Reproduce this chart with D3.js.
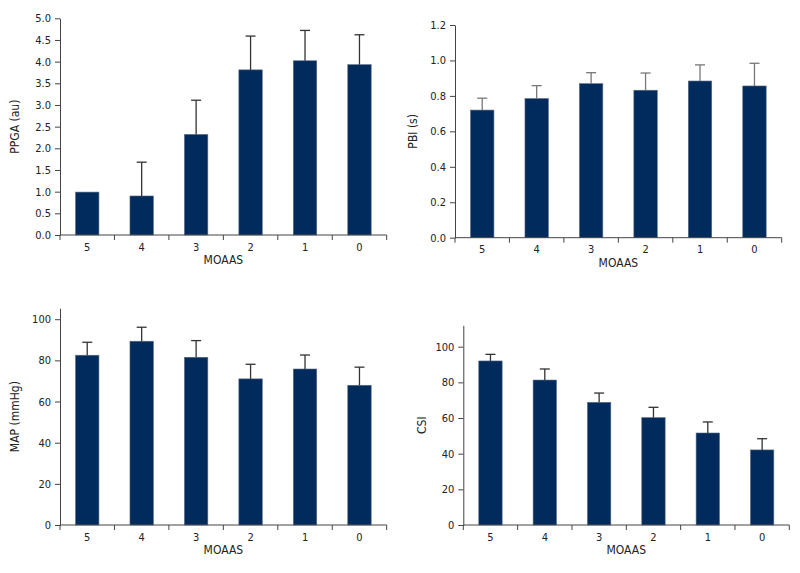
<!DOCTYPE html>
<html>
<head>
<meta charset="utf-8">
<script src="https://cdn.jsdelivr.net/npm/d3@7"></script>
<style>
  html, body { margin: 0; padding: 0; background: #fff; }
  svg { display: block; }
  text { font-family: "Liberation Sans Narrow", "DejaVu Sans Condensed", "Roboto Condensed", sans-serif; fill: #222; }
</style>
</head>
<body>
<svg id="chart" width="800" height="573"></svg>
<script>
// ---- Data ----
const categories = ["5", "4", "3", "2", "1", "0"];
const xTitle = "MOAAS";

const ppgaMean = [0.99, 0.90, 2.32, 3.81, 4.02, 3.93];
const ppgaSD   = [0.00, 0.78, 0.79, 0.78, 0.70, 0.69];
const ppgaTicks = [0, 0.5, 1.0, 1.5, 2.0, 2.5, 3.0, 3.5, 4.0, 4.5, 5.0];

const pbiMean = [0.72, 0.785, 0.869, 0.832, 0.884, 0.856];
const pbiSD   = [0.067, 0.073, 0.062, 0.097, 0.091, 0.128];
const pbiTicks = [0, 0.2, 0.4, 0.6, 0.8, 1.0, 1.2];

const mapMean = [82.5, 89.3, 81.5, 71.0, 75.8, 67.9];
const mapSD   = [6.3, 6.8, 8.1, 7.1, 6.8, 8.8];
const mapTicks = [0, 20, 40, 60, 80, 100];

const csiMean = [92.0, 81.3, 68.8, 60.2, 51.6, 42.1];
const csiSD   = [3.7, 6.2, 5.2, 5.8, 6.2, 6.3];
const csiTicks = [0, 20, 40, 60, 80, 100];

// ---- Panels ----
const panels = [
  { mean: ppgaMean, sd: ppgaSD, ticks: ppgaTicks, fmt: d3.format(".1f"), yTitle: "PPGA (au)",
    xL: 60, xR: 386.7, y0: 235, dmax: 5.0, yTop: 18.3, errColor: "#333", yTitleX: 15, xTitleY: 260 },
  { mean: pbiMean, sd: pbiSD, ticks: pbiTicks, fmt: d3.format(".1f"), yTitle: "PBI (s)",
    xL: 455, xR: 781.7, y0: 237.7, dmax: 1.2, yTop: 25, errColor: "#777", yTitleX: 413, xTitleY: 263 },
  { mean: mapMean, sd: mapSD, ticks: mapTicks, fmt: d3.format("d"), yTitle: "MAP (mmHg)",
    xL: 60, xR: 386.7, y0: 525, dmax: 105.3, yTop: 308.3, errColor: "#333", yTitleX: 15, xTitleY: 550 },
  { mean: csiMean, sd: csiSD, ticks: csiTicks, fmt: d3.format("d"), yTitle: "CSI",
    xL: 463.3, xR: 789.3, y0: 525, dmax: 112, yTop: 325.3, errColor: "#333", yTitleX: 422, xTitleY: 550 }
];

const svg = d3.select("#chart");
const barColor = "#002b5c";
const axisColor = "#444";

panels.forEach(p => {
  const g = svg.append("g");
  const x = d3.scaleBand().domain(categories).range([p.xL, p.xR])
    .paddingInner(0.57).paddingOuter(0.285);
  const y = d3.scaleLinear().domain([0, p.dmax]).range([p.y0, p.yTop]);

  // bars
  g.selectAll("rect.bar").data(p.mean).enter().append("rect")
    .attr("class", "bar")
    .attr("x", (d, i) => x(categories[i]))
    .attr("width", x.bandwidth())
    .attr("y", d => y(d))
    .attr("height", d => y(0) - y(d))
    .attr("fill", barColor)
    .attr("stroke", "#5a6b80")
    .attr("stroke-width", 0.6);

  // error bars
  const eg = g.selectAll("g.err").data(p.mean.map((m, i) => ({ m, s: p.sd[i], c: categories[i] })))
    .enter().append("g").attr("class", "err")
    .filter(d => d.s > 0);
  eg.append("line")
    .attr("x1", d => x(d.c) + x.bandwidth() / 2)
    .attr("x2", d => x(d.c) + x.bandwidth() / 2)
    .attr("y1", d => y(d.m))
    .attr("y2", d => y(d.m + d.s))
    .attr("stroke", p.errColor).attr("stroke-width", 1.3);
  eg.append("line")
    .attr("x1", d => x(d.c) + x.bandwidth() / 2 - 5)
    .attr("x2", d => x(d.c) + x.bandwidth() / 2 + 5)
    .attr("y1", d => y(d.m + d.s))
    .attr("y2", d => y(d.m + d.s))
    .attr("stroke", p.errColor).attr("stroke-width", 1.3);

  // y axis
  const ya = g.append("g").attr("transform", `translate(${p.xL},0)`)
    .call(d3.axisLeft(y).tickValues(p.ticks).tickFormat(p.fmt).tickSize(5).tickPadding(4).tickSizeOuter(0));
  ya.select(".domain").attr("stroke", axisColor);
  ya.selectAll(".tick line").attr("stroke", axisColor);
  ya.selectAll(".tick text").style("font-size", "11px").attr("fill", "#222");

  // x axis: labels
  const xa = g.append("g").attr("transform", `translate(0,${p.y0})`)
    .call(d3.axisBottom(x).tickSize(0).tickPadding(8).tickSizeOuter(0));
  xa.select(".domain").remove();
  xa.selectAll(".tick text").style("font-size", "11px").attr("fill", "#222");

  // x axis line and boundary ticks
  g.append("line").attr("x1", p.xL).attr("x2", p.xR).attr("y1", p.y0).attr("y2", p.y0)
    .attr("stroke", axisColor);
  const bounds = d3.range(categories.length + 1).map(i => p.xL + i * (p.xR - p.xL) / categories.length);
  g.selectAll("line.bt").data(bounds).enter().append("line").attr("class", "bt")
    .attr("x1", d => d).attr("x2", d => d).attr("y1", p.y0).attr("y2", p.y0 + 5)
    .attr("stroke", axisColor);

  // titles
  g.append("text").attr("x", (p.xL + p.xR) / 2).attr("y", p.xTitleY)
    .attr("text-anchor", "middle").attr("dominant-baseline", "middle")
    .style("font-size", "12px").text(xTitle);
  g.append("text")
    .attr("transform", `translate(${p.yTitleX},${(p.y0 + p.yTop) / 2}) rotate(-90)`)
    .attr("text-anchor", "middle").attr("dominant-baseline", "middle")
    .style("font-size", "12px").text(p.yTitle);
});
</script>
</body>
</html>
